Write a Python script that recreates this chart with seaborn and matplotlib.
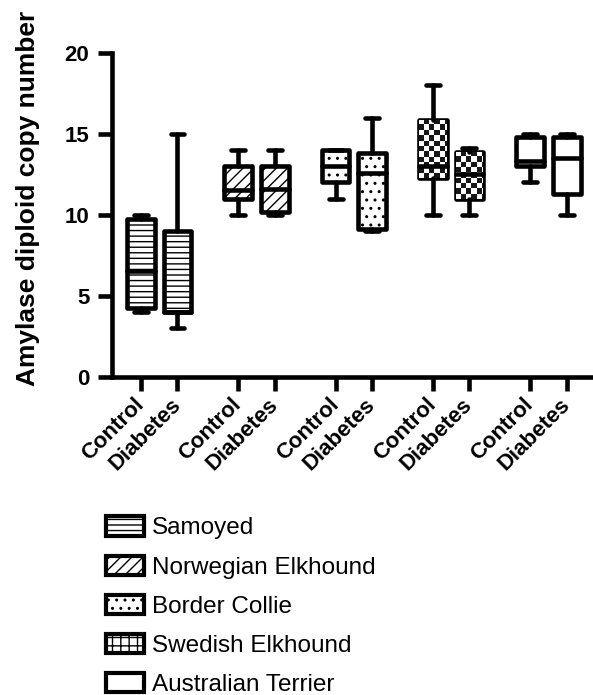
import matplotlib
matplotlib.use("Agg")
import matplotlib.pyplot as plt
import seaborn as sns
import pandas as pd
import numpy as np
from matplotlib.patches import Patch

# five-number summaries (min, q1, median, q3, max)
breeds = ["Samoyed", "Norwegian Elkhound", "Border Collie", "Swedish Elkhound", "Australian Terrier"]
conditions = ["Control", "Diabetes"]

samoyed_control = [4, 4.25, 6.5, 9.75, 10]
samoyed_diabetes = [3, 4, 4, 9, 15]
norwegian_control = [10, 11, 11.5, 13, 14]
norwegian_diabetes = [10, 10.2, 11.6, 13, 14]
border_control = [11, 12, 13, 14, 14]
border_diabetes = [9, 9.15, 12.6, 13.8, 16]
swedish_control = [10, 12.25, 13, 15.85, 18]
swedish_diabetes = [10, 11, 12.5, 13.85, 14.1]
australian_control = [12, 13, 13.3, 14.8, 15]
australian_diabetes = [10, 11.3, 13.5, 14.8, 15]

valores = [
    samoyed_control, samoyed_diabetes,
    norwegian_control, norwegian_diabetes,
    border_control, border_diabetes,
    swedish_control, swedish_diabetes,
    australian_control, australian_diabetes,
]

# posição de cada caixa no eixo x (grupos separados)
posicoes = [0, 1, 2.665, 3.665, 5.33, 6.33, 7.995, 8.995, 10.66, 11.66]

linhas = []
for i, vals in enumerate(valores):
    for v in vals:
        linhas.append({"pos": posicoes[i], "valor": v,
                       "raca": breeds[i // 2], "condicao": conditions[i % 2]})
df = pd.DataFrame(linhas)

sns.set_theme(style="white")
plt.rcParams["font.family"] = ["Liberation Sans", "DejaVu Sans"]
plt.rcParams["hatch.linewidth"] = 1.0
plt.rcParams["text.color"] = "black"
plt.rcParams["axes.labelcolor"] = "black"

fig = plt.figure(figsize=(5.93, 6.95), dpi=100)
ax = fig.add_axes([0.1884, 0.458, 0.8116, 0.466])

sns.boxplot(
    data=df, x="pos", y="valor", native_scale=True, whis=np.inf,
    width=0.76, color="white", linecolor="black", linewidth=3.3,
    ax=ax,
)

hatches = ["---", "///", "..", None, ""]
caixas = [p for p in ax.patches]
for i, caixa in enumerate(caixas):
    b = i // 2
    caixa.set_facecolor("white")
    caixa.set_edgecolor("black")
    caixa.set_joinstyle("round")
    if b == 3:
        # padrão xadrez recortado na caixa
        ext = caixa.get_path().get_extents(caixa.get_patch_transform() + caixa.get_data_transform() - ax.transData)
        nx, ny = 6, 14
        xadrez = (np.add.outer(np.arange(ny), np.arange(nx)) % 2).astype(float)
        im = ax.imshow(xadrez, cmap="gray_r", vmin=0, vmax=1.1,
                       extent=[ext.x0, ext.x0 + nx * 0.14, ext.y0, ext.y0 + ny * 0.33],
                       origin="lower", aspect="auto", interpolation="nearest", zorder=caixa.get_zorder() + 0.1)
        im.set_clip_path(caixa)
    elif hatches[b]:
        caixa.set_hatch(hatches[b])

for linha in ax.lines:
    linha.set_solid_capstyle("round")
    linha.set_zorder(3)

ax.set_xlim(-0.8, 12.38)
ax.set_ylim(0, 20)
ax.set_yticks([0, 5, 10, 15, 20])
ax.set_xticks(posicoes)
ax.set_xticklabels(conditions * 5, rotation=45, ha="right", va="center",
                   rotation_mode="anchor", fontweight="bold", fontsize=16)
for lab in ax.get_yticklabels():
    lab.set_fontweight("bold")
    lab.set_fontsize(16)

ax.set_xlabel("")
ax.set_ylabel("Amylase diploid copy number", fontsize=19, fontweight="bold")
ax.yaxis.set_label_coords(-0.15, 0.55)

sns.despine(ax=ax)
for lado in ["left", "bottom"]:
    ax.spines[lado].set_linewidth(3.3)
    ax.spines[lado].set_color("black")
ax.tick_params(axis="both", direction="out", length=10, width=3.3, color="black",
               labelcolor="black", bottom=True, left=True)
ax.tick_params(axis="y", pad=6)
ax.tick_params(axis="x", pad=8)

# legenda
alcas = [
    Patch(facecolor="white", edgecolor="black", linewidth=3, hatch="---", label=breeds[0]),
    Patch(facecolor="white", edgecolor="black", linewidth=3, hatch="///", label=breeds[1]),
    Patch(facecolor="white", edgecolor="black", linewidth=3, hatch="..", label=breeds[2]),
    Patch(facecolor="white", edgecolor="black", linewidth=3, hatch="++", label=breeds[3]),
    Patch(facecolor="white", edgecolor="black", linewidth=3, label=breeds[4]),
]
fig.legend(handles=alcas, loc="upper left", bbox_to_anchor=(0.178, 0.257),
           frameon=False, fontsize=17.5, handlelength=1.6, handleheight=0.85,
           handletextpad=0.3, labelspacing=0.66, borderpad=0, borderaxespad=0)

fig.savefig("out.png", dpi=100)
